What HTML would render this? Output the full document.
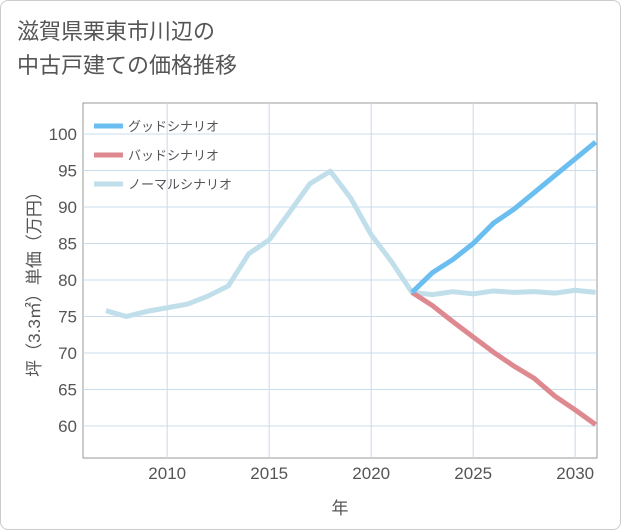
<!DOCTYPE html>
<html><head><meta charset="utf-8"><style>
body{margin:0;background:#fff;font-family:"Liberation Sans","Noto Sans CJK JP",sans-serif;}
#wrap{position:relative;width:619px;height:528px;border:1px solid #ccc;border-radius:8px;overflow:hidden;background:#fff}
.title{position:absolute;left:16px;top:14px;font-size:22px;line-height:34px;color:#555;}
</style></head><body>
<div id="wrap">
<div class="title">滋賀県栗東市川辺の<br>中古戸建ての価格推移</div>
<svg id="chart" width="621" height="530" style="position:absolute;left:-1px;top:-1px"></svg>
</div>
<script>
const years=[2007,2008,2009,2010,2011,2012,2013,2014,2015,2016,2017,2018,2019,2020,2021,2022,2023,2024,2025,2026,2027,2028,2029,2030,2031];
const normal=[75.8,75.0,75.7,76.2,76.7,77.8,79.2,83.6,85.5,89.3,93.2,94.9,91.2,86.2,82.5,78.3,78.0,78.4,78.1,78.5,78.3,78.4,78.2,78.6,78.3];
const goodYears=[2022,2023,2024,2025,2026,2027,2028,2029,2030,2031];
const good=[78.3,81.0,82.8,85.0,87.8,89.7,92.0,94.3,96.6,98.9];
const bad=[78.3,76.5,74.3,72.2,70.1,68.2,66.5,64.1,62.2,60.2];
const xTicks=[2010,2015,2020,2025,2030];
const yTicks=[60,65,70,75,80,85,90,95,100];
const legendNames=["グッドシナリオ","バッドシナリオ","ノーマルシナリオ"];
const L=83,R=597,T=103,B=458;
const x=v=>106+(v-2007)*20.4;
const y=v=>134+(100-v)*7.3;
const svg=document.getElementById('chart');
const NS='http://www.w3.org/2000/svg';
function mk(t,a,p){const e=document.createElementNS(NS,t);for(const k in a)e.setAttribute(k,a[k]);(p||svg).appendChild(e);return e;}
let e;
e=mk('rect',{x:L,y:T,width:R-L,height:B-T,fill:'#fff',stroke:'#999','stroke-width':1});


yTicks.forEach(v=>{
 e=mk('line',{x1:L,x2:R,y1:y(v),y2:y(v),stroke:'#c8dcec','stroke-width':1});
 
 
 e=mk('text',{x:L-6,y:y(v)+6,'text-anchor':'end','font-size':17,fill:'#555'});e.textContent=v;
 
 
});
xTicks.forEach(v=>{
 e=mk('line',{x1:x(v),x2:x(v),y1:T,y2:B,stroke:'#c8dcec','stroke-width':1});
 
 
 e=mk('text',{x:x(v),y:B+21,'text-anchor':'middle','font-size':17,fill:'#555'});e.textContent=v;
 
 
});
e=mk('text',{x:340,y:514,'text-anchor':'middle','font-size':17,fill:'#555'});e.textContent='年';


e=mk('text',{x:0,y:0,'text-anchor':'middle','font-size':17,fill:'#555',transform:'translate(40,280) rotate(-90)'});e.textContent='坪（3.3㎡）単価（万円）';


function line(xs,vs,color,name){
 const d=xs.map((yr,i)=>(i?'L':'M')+x(yr)+','+y(vs[i])).join('');
 const p=mk('path',{d:d,fill:'none',stroke:color,'stroke-width':5,'stroke-linejoin':'round'});
 
 
}
line(years,normal,'#c0dfea','normal-scenario-line');
line(goodYears,bad,'#de8990','bad-scenario-line');
line(goodYears,good,'#6bbef0','good-scenario-line');
const lc=['#6bbef0','#de8990','#c0dfea'];
legendNames.forEach((n,i)=>{
 const g=mk('g',{});
 
 
 mk('line',{x1:94,x2:123,y1:126+i*29,y2:126+i*29,stroke:lc[i],'stroke-width':5},g);
 const t=mk('text',{x:128,y:131+i*29,'font-size':13,fill:'#555'},g);t.textContent=n;
});
</script>
</body></html>
